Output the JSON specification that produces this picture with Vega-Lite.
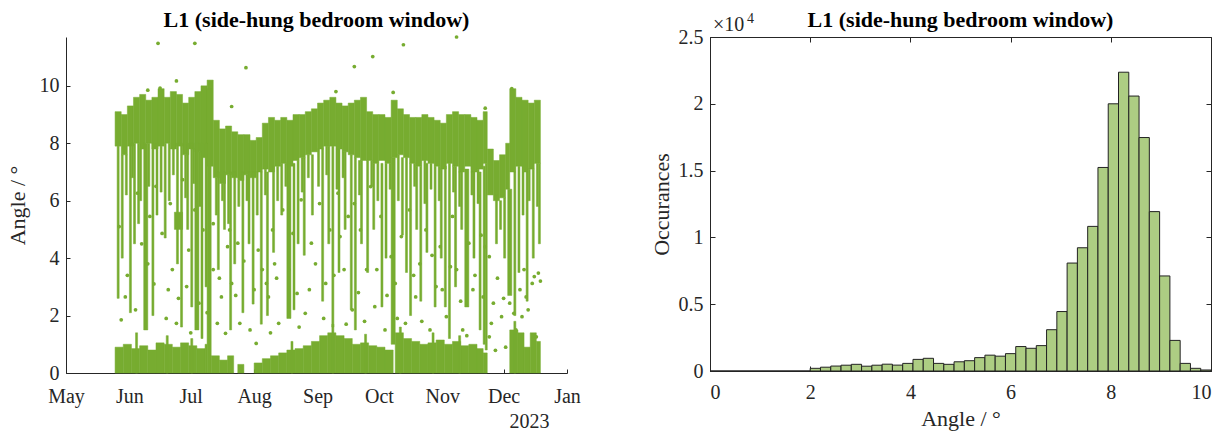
{
"$schema": "https://vega.github.io/schema/vega-lite/v6.json",
"background": "white",
"padding": {"left": 6, "top": 8, "right": 10, "bottom": 0},
"config": {
  "font": "Liberation Serif",
  "view": {"stroke": null},
  "axis": {"grid": false, "domainColor": "#262626", "tickColor": "#262626", "labelColor": "#262626", "titleColor": "#262626", "labelFont": "Liberation Serif", "titleFont": "Liberation Serif", "labelFontSize": 20, "titleFontSize": 22, "titleFontWeight": "normal", "domainWidth": 1, "tickWidth": 1},
  "title": {"font": "Liberation Serif", "fontSize": 22, "fontWeight": "bold", "color": "#000000"},
  "concat": {"spacing": 68}
},
"datasets": {
"seg": [
{"t":"2023-05-25","t2":"2023-05-28","v":7.9,"v2":9.1},
{"t":"2023-05-28","t2":"2023-05-31","v":7.6,"v2":9.0},
{"t":"2023-05-31","t2":"2023-06-03","v":7.9,"v2":9.3},
{"t":"2023-06-03","t2":"2023-06-06","v":8.0,"v2":9.6},
{"t":"2023-06-06","t2":"2023-06-09","v":7.8,"v2":9.7},
{"t":"2023-06-09","t2":"2023-06-12","v":8.0,"v2":9.5},
{"t":"2023-06-12","t2":"2023-06-15","v":7.8,"v2":9.6},
{"t":"2023-06-15","t2":"2023-06-18","v":7.9,"v2":9.9},
{"t":"2023-06-18","t2":"2023-06-21","v":8.0,"v2":9.6},
{"t":"2023-06-21","t2":"2023-06-24","v":7.8,"v2":9.8},
{"t":"2023-06-24","t2":"2023-06-27","v":7.9,"v2":9.7},
{"t":"2023-06-27","t2":"2023-06-30","v":7.6,"v2":9.4},
{"t":"2023-06-30","t2":"2023-07-03","v":7.8,"v2":9.6},
{"t":"2023-07-03","t2":"2023-07-06","v":7.7,"v2":9.8},
{"t":"2023-07-06","t2":"2023-07-09","v":7.5,"v2":10.0},
{"t":"2023-07-09","t2":"2023-07-12","v":7.2,"v2":10.2},
{"t":"2023-07-12","t2":"2023-07-15","v":6.8,"v2":8.8},
{"t":"2023-07-15","t2":"2023-07-18","v":6.6,"v2":8.5},
{"t":"2023-07-18","t2":"2023-07-21","v":6.9,"v2":8.6},
{"t":"2023-07-21","t2":"2023-07-24","v":6.8,"v2":8.4},
{"t":"2023-07-24","t2":"2023-07-27","v":6.7,"v2":8.3},
{"t":"2023-07-27","t2":"2023-07-30","v":6.9,"v2":8.3},
{"t":"2023-07-30","t2":"2023-08-02","v":6.8,"v2":8.1},
{"t":"2023-08-02","t2":"2023-08-05","v":7.0,"v2":8.2},
{"t":"2023-08-05","t2":"2023-08-08","v":7.1,"v2":8.7},
{"t":"2023-08-08","t2":"2023-08-11","v":7.0,"v2":8.9},
{"t":"2023-08-11","t2":"2023-08-14","v":7.2,"v2":8.8},
{"t":"2023-08-14","t2":"2023-08-17","v":7.3,"v2":8.9},
{"t":"2023-08-17","t2":"2023-08-20","v":7.2,"v2":8.8},
{"t":"2023-08-20","t2":"2023-08-23","v":7.4,"v2":9.0},
{"t":"2023-08-23","t2":"2023-08-26","v":7.5,"v2":9.0},
{"t":"2023-08-26","t2":"2023-08-29","v":7.6,"v2":9.1},
{"t":"2023-08-29","t2":"2023-09-01","v":7.7,"v2":9.2},
{"t":"2023-09-01","t2":"2023-09-04","v":7.8,"v2":9.4},
{"t":"2023-09-04","t2":"2023-09-07","v":7.9,"v2":9.5},
{"t":"2023-09-07","t2":"2023-09-10","v":7.9,"v2":9.6},
{"t":"2023-09-10","t2":"2023-09-13","v":7.8,"v2":9.4},
{"t":"2023-09-13","t2":"2023-09-16","v":7.7,"v2":9.3},
{"t":"2023-09-16","t2":"2023-09-19","v":7.6,"v2":9.4},
{"t":"2023-09-19","t2":"2023-09-22","v":7.5,"v2":9.5},
{"t":"2023-09-22","t2":"2023-09-25","v":7.4,"v2":9.6},
{"t":"2023-09-25","t2":"2023-09-28","v":7.4,"v2":9.1},
{"t":"2023-09-28","t2":"2023-10-01","v":7.3,"v2":9.0},
{"t":"2023-10-01","t2":"2023-10-04","v":7.4,"v2":9.0},
{"t":"2023-10-04","t2":"2023-10-07","v":7.3,"v2":8.9},
{"t":"2023-10-07","t2":"2023-10-10","v":7.5,"v2":9.5},
{"t":"2023-10-10","t2":"2023-10-13","v":7.6,"v2":9.2},
{"t":"2023-10-13","t2":"2023-10-16","v":7.5,"v2":9.0},
{"t":"2023-10-16","t2":"2023-10-19","v":7.3,"v2":8.9},
{"t":"2023-10-19","t2":"2023-10-22","v":7.2,"v2":8.9},
{"t":"2023-10-22","t2":"2023-10-25","v":7.4,"v2":9.0},
{"t":"2023-10-25","t2":"2023-10-28","v":7.3,"v2":8.9},
{"t":"2023-10-28","t2":"2023-10-31","v":7.2,"v2":8.8},
{"t":"2023-10-31","t2":"2023-11-03","v":7.1,"v2":8.7},
{"t":"2023-11-03","t2":"2023-11-06","v":7.3,"v2":9.0},
{"t":"2023-11-06","t2":"2023-11-09","v":7.2,"v2":9.1},
{"t":"2023-11-09","t2":"2023-11-12","v":7.0,"v2":9.0},
{"t":"2023-11-12","t2":"2023-11-15","v":7.2,"v2":9.0},
{"t":"2023-11-15","t2":"2023-11-18","v":7.0,"v2":8.9},
{"t":"2023-11-18","t2":"2023-11-21","v":7.1,"v2":8.8},
{"t":"2023-11-21","t2":"2023-11-23","v":7.3,"v2":9.1},
{"t":"2023-11-23","t2":"2023-11-26","v":6.2,"v2":7.8},
{"t":"2023-11-26","t2":"2023-11-29","v":6.0,"v2":7.4},
{"t":"2023-11-29","t2":"2023-12-02","v":6.1,"v2":7.6},
{"t":"2023-12-02","t2":"2023-12-04","v":6.4,"v2":8.0},
{"t":"2023-12-04","t2":"2023-12-07","v":7.0,"v2":9.9},
{"t":"2023-12-07","t2":"2023-12-10","v":7.2,"v2":9.6},
{"t":"2023-12-10","t2":"2023-12-13","v":7.0,"v2":9.5},
{"t":"2023-12-13","t2":"2023-12-16","v":7.1,"v2":9.4},
{"t":"2023-12-16","t2":"2023-12-19","v":7.3,"v2":9.5},
{"t":"2023-05-25","t2":"2023-05-29","v":0,"v2":0.9},
{"t":"2023-05-29","t2":"2023-06-02","v":0,"v2":1.0},
{"t":"2023-06-02","t2":"2023-06-06","v":0,"v2":0.85},
{"t":"2023-06-06","t2":"2023-06-10","v":0,"v2":0.95},
{"t":"2023-06-10","t2":"2023-06-14","v":0,"v2":0.8},
{"t":"2023-06-14","t2":"2023-06-18","v":0,"v2":1.05},
{"t":"2023-06-18","t2":"2023-06-22","v":0,"v2":1.0},
{"t":"2023-06-22","t2":"2023-06-26","v":0,"v2":0.9},
{"t":"2023-06-26","t2":"2023-06-30","v":0,"v2":1.05},
{"t":"2023-06-30","t2":"2023-07-04","v":0,"v2":0.95},
{"t":"2023-07-04","t2":"2023-07-08","v":0,"v2":0.85},
{"t":"2023-07-08","t2":"2023-07-09","v":0,"v2":1.0},
{"t":"2023-07-09","t2":"2023-07-11","v":0,"v2":9.9},
{"t":"2023-07-11","t2":"2023-07-15","v":0,"v2":0.6},
{"t":"2023-07-15","t2":"2023-07-19","v":0,"v2":0.45},
{"t":"2023-07-19","t2":"2023-07-22","v":0,"v2":0.6},
{"t":"2023-07-24","t2":"2023-07-27","v":0,"v2":0.3},
{"t":"2023-08-01","t2":"2023-08-05","v":0,"v2":0.35},
{"t":"2023-08-05","t2":"2023-08-09","v":0,"v2":0.5},
{"t":"2023-08-09","t2":"2023-08-13","v":0,"v2":0.6},
{"t":"2023-08-13","t2":"2023-08-17","v":0,"v2":0.7},
{"t":"2023-08-17","t2":"2023-08-21","v":0,"v2":0.8},
{"t":"2023-08-21","t2":"2023-08-25","v":0,"v2":0.85},
{"t":"2023-08-25","t2":"2023-08-29","v":0,"v2":0.95},
{"t":"2023-08-29","t2":"2023-09-02","v":0,"v2":1.1},
{"t":"2023-09-02","t2":"2023-09-06","v":0,"v2":1.3},
{"t":"2023-09-06","t2":"2023-09-10","v":0,"v2":1.4},
{"t":"2023-09-10","t2":"2023-09-14","v":0,"v2":1.3},
{"t":"2023-09-14","t2":"2023-09-18","v":0,"v2":1.2},
{"t":"2023-09-18","t2":"2023-09-22","v":0,"v2":1.0},
{"t":"2023-09-22","t2":"2023-09-26","v":0,"v2":1.05},
{"t":"2023-09-26","t2":"2023-09-30","v":0,"v2":0.95},
{"t":"2023-09-30","t2":"2023-10-04","v":0,"v2":0.9},
{"t":"2023-10-04","t2":"2023-10-08","v":0,"v2":0.8},
{"t":"2023-10-09","t2":"2023-10-13","v":0,"v2":1.4},
{"t":"2023-10-13","t2":"2023-10-17","v":0,"v2":1.2},
{"t":"2023-10-17","t2":"2023-10-21","v":0,"v2":1.1},
{"t":"2023-10-21","t2":"2023-10-25","v":0,"v2":1.0},
{"t":"2023-10-25","t2":"2023-10-29","v":0,"v2":1.05},
{"t":"2023-10-29","t2":"2023-11-02","v":0,"v2":1.15},
{"t":"2023-11-02","t2":"2023-11-06","v":0,"v2":1.0},
{"t":"2023-11-06","t2":"2023-11-10","v":0,"v2":1.1},
{"t":"2023-11-10","t2":"2023-11-14","v":0,"v2":0.95},
{"t":"2023-11-14","t2":"2023-11-18","v":0,"v2":1.0},
{"t":"2023-11-18","t2":"2023-11-21","v":0,"v2":0.85},
{"t":"2023-11-21","t2":"2023-11-23","v":0,"v2":0.7},
{"t":"2023-12-04","t2":"2023-12-08","v":0,"v2":1.5},
{"t":"2023-12-08","t2":"2023-12-11","v":0,"v2":1.4},
{"t":"2023-12-11","t2":"2023-12-14","v":0,"v2":0.9},
{"t":"2023-12-14","t2":"2023-12-17","v":0,"v2":1.4},
{"t":"2023-12-17","t2":"2023-12-19","v":0,"v2":1.1},
{"t":"2023-06-04","t2":"2023-06-05","v":0,"v2":1.4},
{"t":"2023-06-19","t2":"2023-06-20","v":0,"v2":1.3},
{"t":"2023-07-01","t2":"2023-07-02","v":0,"v2":1.2},
{"t":"2023-08-19","t2":"2023-08-20","v":0,"v2":1.1},
{"t":"2023-09-08","t2":"2023-09-09","v":0,"v2":1.7},
{"t":"2023-09-24","t2":"2023-09-25","v":0,"v2":1.35},
{"t":"2023-10-11","t2":"2023-10-12","v":0,"v2":1.6},
{"t":"2023-10-27","t2":"2023-10-28","v":0,"v2":1.4},
{"t":"2023-11-09","t2":"2023-11-10","v":0,"v2":1.3},
{"t":"2023-12-06","t2":"2023-12-07","v":0,"v2":1.8},
{"t":"2023-05-26","t2":"2023-05-27","v":2.6,"v2":7.9},
{"t":"2023-05-28","t2":"2023-05-29","v":4.0,"v2":7.6},
{"t":"2023-06-01","t2":"2023-06-02","v":2.1,"v2":8.0},
{"t":"2023-06-03","t2":"2023-06-04","v":4.5,"v2":8.0},
{"t":"2023-06-05","t2":"2023-06-06","v":5.2,"v2":8.0},
{"t":"2023-06-08","t2":"2023-06-10","v":1.5,"v2":8.0},
{"t":"2023-06-12","t2":"2023-06-13","v":2.0,"v2":8.0},
{"t":"2023-06-14","t2":"2023-06-15","v":5.5,"v2":8.0},
{"t":"2023-06-18","t2":"2023-06-19","v":4.7,"v2":8.0},
{"t":"2023-06-20","t2":"2023-06-21","v":6.0,"v2":8.0},
{"t":"2023-06-23","t2":"2023-06-27","v":5.0,"v2":5.6},
{"t":"2023-06-24","t2":"2023-06-25","v":3.8,"v2":8.0},
{"t":"2023-06-26","t2":"2023-06-27","v":1.6,"v2":8.0},
{"t":"2023-06-29","t2":"2023-06-30","v":5.0,"v2":8.0},
{"t":"2023-07-01","t2":"2023-07-02","v":2.3,"v2":8.0},
{"t":"2023-07-03","t2":"2023-07-05","v":1.5,"v2":8.0},
{"t":"2023-07-06","t2":"2023-07-07","v":1.2,"v2":8.0},
{"t":"2023-07-08","t2":"2023-07-09","v":3.0,"v2":8.0},
{"t":"2023-07-14","t2":"2023-07-15","v":3.6,"v2":7.0},
{"t":"2023-07-17","t2":"2023-07-18","v":5.0,"v2":7.0},
{"t":"2023-07-20","t2":"2023-07-21","v":1.5,"v2":7.0},
{"t":"2023-07-22","t2":"2023-07-23","v":3.8,"v2":7.0},
{"t":"2023-07-26","t2":"2023-07-27","v":2.1,"v2":7.0},
{"t":"2023-07-29","t2":"2023-07-30","v":4.5,"v2":7.0},
{"t":"2023-07-31","t2":"2023-08-01","v":2.4,"v2":7.0},
{"t":"2023-08-04","t2":"2023-08-05","v":1.7,"v2":7.0},
{"t":"2023-08-07","t2":"2023-08-08","v":2.0,"v2":7.0},
{"t":"2023-08-10","t2":"2023-08-11","v":4.2,"v2":7.2},
{"t":"2023-08-14","t2":"2023-08-15","v":5.5,"v2":7.3},
{"t":"2023-08-17","t2":"2023-08-19","v":1.9,"v2":7.3},
{"t":"2023-08-20","t2":"2023-08-21","v":2.2,"v2":7.3},
{"t":"2023-08-22","t2":"2023-08-23","v":4.5,"v2":7.4},
{"t":"2023-08-25","t2":"2023-08-26","v":4.1,"v2":7.5},
{"t":"2023-08-29","t2":"2023-08-30","v":5.5,"v2":7.6},
{"t":"2023-09-03","t2":"2023-09-04","v":2.5,"v2":7.8},
{"t":"2023-09-06","t2":"2023-09-07","v":4.5,"v2":7.9},
{"t":"2023-09-08","t2":"2023-09-09","v":1.6,"v2":7.9},
{"t":"2023-09-11","t2":"2023-09-12","v":3.5,"v2":7.8},
{"t":"2023-09-14","t2":"2023-09-15","v":5.0,"v2":7.7},
{"t":"2023-09-17","t2":"2023-09-18","v":2.2,"v2":7.6},
{"t":"2023-09-19","t2":"2023-09-20","v":1.5,"v2":7.5},
{"t":"2023-09-22","t2":"2023-09-23","v":4.5,"v2":7.4},
{"t":"2023-09-25","t2":"2023-09-26","v":3.5,"v2":7.4},
{"t":"2023-09-28","t2":"2023-09-29","v":5.0,"v2":7.3},
{"t":"2023-10-02","t2":"2023-10-03","v":2.3,"v2":7.3},
{"t":"2023-10-04","t2":"2023-10-05","v":4.0,"v2":7.3},
{"t":"2023-10-07","t2":"2023-10-09","v":1.0,"v2":7.5},
{"t":"2023-10-12","t2":"2023-10-13","v":4.8,"v2":7.5},
{"t":"2023-10-14","t2":"2023-10-15","v":3.5,"v2":7.5},
{"t":"2023-10-16","t2":"2023-10-17","v":2.0,"v2":7.3},
{"t":"2023-10-19","t2":"2023-10-20","v":5.0,"v2":7.2},
{"t":"2023-10-21","t2":"2023-10-22","v":2.5,"v2":7.2},
{"t":"2023-10-24","t2":"2023-10-25","v":4.2,"v2":7.3},
{"t":"2023-10-28","t2":"2023-10-29","v":2.3,"v2":7.2},
{"t":"2023-10-31","t2":"2023-11-01","v":4.0,"v2":7.1},
{"t":"2023-11-02","t2":"2023-11-03","v":2.3,"v2":7.2},
{"t":"2023-11-04","t2":"2023-11-05","v":1.2,"v2":7.3},
{"t":"2023-11-07","t2":"2023-11-08","v":3.0,"v2":7.2},
{"t":"2023-11-10","t2":"2023-11-11","v":5.0,"v2":7.1},
{"t":"2023-11-12","t2":"2023-11-14","v":2.3,"v2":7.1},
{"t":"2023-11-16","t2":"2023-11-17","v":4.0,"v2":7.0},
{"t":"2023-11-19","t2":"2023-11-20","v":1.5,"v2":7.0},
{"t":"2023-11-21","t2":"2023-11-22","v":1.0,"v2":7.2},
{"t":"2023-11-22","t2":"2023-11-23","v":0.8,"v2":7.3},
{"t":"2023-11-27","t2":"2023-11-28","v":4.5,"v2":6.2},
{"t":"2023-11-29","t2":"2023-11-30","v":5.0,"v2":6.0},
{"t":"2023-12-01","t2":"2023-12-02","v":4.0,"v2":6.1},
{"t":"2023-12-03","t2":"2023-12-05","v":2.7,"v2":6.4},
{"t":"2023-12-06","t2":"2023-12-07","v":2.0,"v2":7.0},
{"t":"2023-12-08","t2":"2023-12-09","v":3.5,"v2":7.2},
{"t":"2023-12-12","t2":"2023-12-13","v":2.5,"v2":7.0},
{"t":"2023-12-15","t2":"2023-12-16","v":4.0,"v2":7.1},
{"t":"2023-12-18","t2":"2023-12-19","v":4.5,"v2":7.3},
{"t":"2023-05-30","t2":"2023-05-31","v":6.2,"v2":7.6},
{"t":"2023-06-02","t2":"2023-06-03","v":6.8,"v2":8.0},
{"t":"2023-06-06","t2":"2023-06-07","v":6.0,"v2":7.8},
{"t":"2023-06-10","t2":"2023-06-11","v":6.5,"v2":8.0},
{"t":"2023-06-16","t2":"2023-06-17","v":6.3,"v2":7.9},
{"t":"2023-06-22","t2":"2023-06-23","v":6.9,"v2":7.8},
{"t":"2023-06-28","t2":"2023-06-29","v":6.1,"v2":7.6},
{"t":"2023-07-02","t2":"2023-07-03","v":6.6,"v2":7.8},
{"t":"2023-07-05","t2":"2023-07-06","v":5.8,"v2":7.7},
{"t":"2023-07-13","t2":"2023-07-14","v":5.5,"v2":6.8},
{"t":"2023-07-16","t2":"2023-07-17","v":6.0,"v2":6.6},
{"t":"2023-07-19","t2":"2023-07-20","v":5.2,"v2":6.9},
{"t":"2023-07-24","t2":"2023-07-25","v":5.8,"v2":6.7},
{"t":"2023-07-28","t2":"2023-07-29","v":6.0,"v2":6.9},
{"t":"2023-08-02","t2":"2023-08-03","v":5.5,"v2":7.0},
{"t":"2023-08-06","t2":"2023-08-07","v":6.2,"v2":7.1},
{"t":"2023-08-12","t2":"2023-08-13","v":6.0,"v2":7.2},
{"t":"2023-08-16","t2":"2023-08-17","v":6.5,"v2":7.3},
{"t":"2023-08-24","t2":"2023-08-25","v":6.3,"v2":7.5},
{"t":"2023-08-27","t2":"2023-08-28","v":6.8,"v2":7.6},
{"t":"2023-09-01","t2":"2023-09-02","v":6.5,"v2":7.8},
{"t":"2023-09-05","t2":"2023-09-06","v":6.9,"v2":7.9},
{"t":"2023-09-10","t2":"2023-09-11","v":6.4,"v2":7.8},
{"t":"2023-09-13","t2":"2023-09-14","v":6.8,"v2":7.7},
{"t":"2023-09-21","t2":"2023-09-22","v":6.2,"v2":7.4},
{"t":"2023-09-27","t2":"2023-09-28","v":6.5,"v2":7.4},
{"t":"2023-09-30","t2":"2023-10-01","v":6.0,"v2":7.3},
{"t":"2023-10-06","t2":"2023-10-07","v":6.4,"v2":7.3},
{"t":"2023-10-10","t2":"2023-10-11","v":6.0,"v2":7.6},
{"t":"2023-10-18","t2":"2023-10-19","v":6.5,"v2":7.3},
{"t":"2023-10-23","t2":"2023-10-24","v":5.9,"v2":7.4},
{"t":"2023-10-26","t2":"2023-10-27","v":6.4,"v2":7.3},
{"t":"2023-10-30","t2":"2023-10-31","v":6.0,"v2":7.2},
{"t":"2023-11-06","t2":"2023-11-07","v":6.3,"v2":7.2},
{"t":"2023-11-09","t2":"2023-11-10","v":5.8,"v2":7.0},
{"t":"2023-11-15","t2":"2023-11-16","v":6.2,"v2":7.0},
{"t":"2023-11-18","t2":"2023-11-19","v":5.9,"v2":7.1},
{"t":"2023-12-10","t2":"2023-12-11","v":5.5,"v2":7.0},
{"t":"2023-12-13","t2":"2023-12-14","v":6.0,"v2":7.1},
{"t":"2023-12-17","t2":"2023-12-18","v":5.8,"v2":7.3}
],
"dots": [
{"t":"2023-05-27","v":5.1},{"t":"2023-05-28","v":1.85},{"t":"2023-05-30","v":2.65},{"t":"2023-06-05","v":6.26},
{"t":"2023-06-07","v":4.5},{"t":"2023-06-10","v":3.8},{"t":"2023-06-11","v":5.45},{"t":"2023-06-14","v":6.5},
{"t":"2023-06-17","v":4.86},{"t":"2023-06-20","v":2.9},{"t":"2023-06-21","v":5.9},{"t":"2023-06-22","v":3.6},
{"t":"2023-06-24","v":1.73},{"t":"2023-06-27","v":6.73},{"t":"2023-06-29","v":3.01},{"t":"2023-06-30","v":4.28},
{"t":"2023-07-03","v":5.68},{"t":"2023-07-05","v":2.43},{"t":"2023-07-07","v":4.98},{"t":"2023-07-12","v":5.2},
{"t":"2023-07-12","v":3.6},{"t":"2023-07-14","v":1.73},{"t":"2023-07-16","v":2.65},{"t":"2023-07-19","v":4.4},
{"t":"2023-07-18","v":1.38},{"t":"2023-07-21","v":9.28},{"t":"2023-07-28","v":10.63},{"t":"2023-07-20","v":4.98},
{"t":"2023-07-21","v":3.12},{"t":"2023-07-24","v":4.52},{"t":"2023-07-25","v":1.73},{"t":"2023-07-30","v":1.5},
{"t":"2023-08-02","v":1.03},{"t":"2023-08-03","v":4.28},{"t":"2023-08-05","v":3.6},{"t":"2023-08-07","v":3.12},
{"t":"2023-08-08","v":2.65},{"t":"2023-08-10","v":4.98},{"t":"2023-08-11","v":3.8},{"t":"2023-08-13","v":1.73},
{"t":"2023-08-15","v":5.68},{"t":"2023-08-20","v":4.86},{"t":"2023-08-22","v":2.77},{"t":"2023-08-24","v":6.03},
{"t":"2023-08-26","v":2.08},{"t":"2023-08-29","v":4.52},{"t":"2023-08-31","v":3.8},{"t":"2023-09-02","v":5.9},
{"t":"2023-09-05","v":3.12},{"t":"2023-09-07","v":4.98},{"t":"2023-09-11","v":6.26},{"t":"2023-09-12","v":4.75},
{"t":"2023-09-14","v":3.6},{"t":"2023-09-16","v":5.45},{"t":"2023-09-18","v":2.2},{"t":"2023-09-19","v":10.67},
{"t":"2023-09-28","v":11.02},{"t":"2023-10-13","v":11.43},{"t":"2023-11-08","v":11.7},{"t":"2023-06-15","v":11.48},
{"t":"2023-07-03","v":11.48},{"t":"2023-09-19","v":5.9},{"t":"2023-09-22","v":4.98},{"t":"2023-09-25","v":3.6},
{"t":"2023-09-27","v":6.49},{"t":"2023-09-29","v":2.31},{"t":"2023-10-02","v":5.45},{"t":"2023-10-04","v":1.5},
{"t":"2023-10-07","v":4.05},{"t":"2023-10-09","v":3.12},{"t":"2023-10-12","v":4.75},{"t":"2023-10-14","v":1.73},
{"t":"2023-10-16","v":5.68},{"t":"2023-10-19","v":2.65},{"t":"2023-10-21","v":3.8},{"t":"2023-10-24","v":4.98},
{"t":"2023-10-26","v":1.5},{"t":"2023-10-29","v":3.01},{"t":"2023-10-31","v":4.4},{"t":"2023-11-03","v":1.96},
{"t":"2023-11-06","v":5.45},{"t":"2023-11-08","v":3.6},{"t":"2023-11-11","v":1.5},{"t":"2023-11-14","v":4.52},
{"t":"2023-11-16","v":2.9},{"t":"2023-11-19","v":6.14},{"t":"2023-11-21","v":2.65},{"t":"2023-11-22","v":4.4},
{"t":"2023-11-24","v":1.26},{"t":"2023-11-25","v":1.73},{"t":"2023-11-26","v":2.43},{"t":"2023-11-27","v":0.79},
{"t":"2023-11-24","v":4.05},{"t":"2023-11-30","v":1.96},{"t":"2023-12-02","v":0.9},{"t":"2023-12-04","v":2.43},
{"t":"2023-12-06","v":2.08},{"t":"2023-12-09","v":2.9},{"t":"2023-12-11","v":3.6},{"t":"2023-12-12","v":2.65},
{"t":"2023-12-15","v":3.12},{"t":"2023-12-16","v":3.36},{"t":"2023-12-18","v":3.48},{"t":"2023-12-17","v":1.26},
{"t":"2023-12-10","v":1.96},{"t":"2023-06-24","v":10.17},{"t":"2023-06-10","v":9.85},{"t":"2023-06-16","v":9.92},
{"t":"2023-09-10","v":9.8},{"t":"2023-10-08","v":9.77},{"t":"2023-11-22","v":9.22},{"t":"2023-12-05","v":9.9},
{"t":"2023-05-31","v":3.4},{"t":"2023-06-04","v":2.2},{"t":"2023-06-13","v":3.1},{"t":"2023-06-19","v":1.9},
{"t":"2023-06-25","v":2.6},{"t":"2023-07-01","v":1.4},{"t":"2023-07-09","v":2.1},{"t":"2023-07-15","v":3.3},
{"t":"2023-07-23","v":2.7},{"t":"2023-07-27","v":3.9},{"t":"2023-08-01","v":2.9},{"t":"2023-08-09","v":1.4},
{"t":"2023-08-12","v":3.3},{"t":"2023-08-18","v":3.6},{"t":"2023-08-23","v":1.6},{"t":"2023-08-28","v":2.9},
{"t":"2023-09-04","v":1.9},{"t":"2023-09-09","v":3.4},{"t":"2023-09-15","v":1.7},{"t":"2023-09-21","v":2.8},
{"t":"2023-09-24","v":1.8},{"t":"2023-09-30","v":3.6},{"t":"2023-10-05","v":2.7},{"t":"2023-10-10","v":1.9},
{"t":"2023-10-18","v":3.4},{"t":"2023-10-22","v":1.8},{"t":"2023-10-27","v":4.1},{"t":"2023-11-01","v":2.9},
{"t":"2023-11-05","v":3.7},{"t":"2023-11-10","v":2.5},{"t":"2023-11-13","v":1.3},{"t":"2023-11-17","v":3.4},
{"t":"2023-11-20","v":4.8},{"t":"2023-11-28","v":3.3},{"t":"2023-12-01","v":2.6},{"t":"2023-12-07","v":1.5},
{"t":"2023-12-13","v":2.2},{"t":"2023-12-19","v":3.2}
],
"hist": [
{"a":0,"b":2,"n":0},
{"a":2.0,"b":2.2051,"n":200},{"a":2.2051,"b":2.4103,"n":285},{"a":2.4103,"b":2.6154,"n":370},{"a":2.6154,"b":2.8205,"n":435},
{"a":2.8205,"b":3.0256,"n":500},{"a":3.0256,"b":3.2308,"n":360},{"a":3.2308,"b":3.4359,"n":435},{"a":3.4359,"b":3.641,"n":510},
{"a":3.641,"b":3.8462,"n":440},{"a":3.8462,"b":4.0513,"n":570},{"a":4.0513,"b":4.2564,"n":870},{"a":4.2564,"b":4.4615,"n":950},
{"a":4.4615,"b":4.6667,"n":570},{"a":4.6667,"b":4.8718,"n":500},{"a":4.8718,"b":5.0769,"n":690},{"a":5.0769,"b":5.2821,"n":770},
{"a":5.2821,"b":5.4872,"n":1000},{"a":5.4872,"b":5.6923,"n":1185},{"a":5.6923,"b":5.8974,"n":1110},{"a":5.8974,"b":6.1026,"n":1300},
{"a":6.1026,"b":6.3077,"n":1830},{"a":6.3077,"b":6.5128,"n":1700},{"a":6.5128,"b":6.7179,"n":1900},{"a":6.7179,"b":6.9231,"n":3090},
{"a":6.9231,"b":7.1282,"n":4450},{"a":7.1282,"b":7.3333,"n":8080},{"a":7.3333,"b":7.5385,"n":9225},{"a":7.5385,"b":7.7436,"n":10825},
{"a":7.7436,"b":7.9487,"n":15235},{"a":7.9487,"b":8.1538,"n":20000},{"a":8.1538,"b":8.359,"n":22365},{"a":8.359,"b":8.5641,"n":20580},
{"a":8.5641,"b":8.7692,"n":17475},{"a":8.7692,"b":8.9744,"n":11930},{"a":8.9744,"b":9.1795,"n":7115},{"a":9.1795,"b":9.3846,"n":2290},
{"a":9.3846,"b":9.5897,"n":570},{"a":9.5897,"b":9.7949,"n":200},{"a":9.7949,"b":10.0,"n":75}
]
},
"hconcat": [
{
  "width": 501, "height": 336,
  "title": {"text": "L1 (side-hung bedroom window)", "offset": 3},
  "encoding": {
    "x": {"field": "t", "type": "temporal", "title": "2023",
      "scale": {"type": "utc", "domain": [1682899200000, 1704067200000]},
      "axis": {"labelExpr": "utcFormat(datum.value, '%b')", "tickSize": -4, "labelPadding": 17, "titleX": 463, "titleAlign": "center", "titlePadding": 5, "titleFontSize": 20, "labelFlush": false,
        "values": [1682899200000, 1685577600000, 1688169600000, 1690848000000, 1693526400000, 1696118400000, 1698796800000, 1701388800000, 1704067200000]}},
    "y": {"field": "v", "type": "quantitative", "title": "Angle / °",
      "scale": {"domain": [0, 11.7], "nice": false},
      "axis": {"values": [0, 2, 4, 6, 8, 10], "tickSize": -4, "labelPadding": 11, "titlePadding": 10}}
  },
  "layer": [
    {
      "data": {"name": "seg"},
      "mark": {"type": "rect", "color": "#77AC30", "stroke": "#77AC30", "strokeWidth": 0.5},
      "encoding": {"x2": {"field": "t2"}, "y2": {"field": "v2"}}
    },
    {
      "data": {"name": "dots"},
      "mark": {"type": "point", "filled": true, "size": 14, "color": "#77AC30", "opacity": 1}
    }
  ]
},
{
  "width": 501, "height": 334,
  "title": {"text": "L1 (side-hung bedroom window)", "offset": -20},
  "view": {"stroke": "#262626", "strokeWidth": 1},
  "layer": [
    {
      "data": {"name": "hist"},
      "mark": {"type": "rect", "fill": "#ADCD83", "stroke": "#222222", "strokeWidth": 1},
      "encoding": {
        "x": {"field": "a", "type": "quantitative", "title": "Angle / °", "scale": {"domain": [0, 10], "nice": false},
          "axis": {"values": [0, 2, 4, 6, 8, 10], "tickSize": -5, "labelPadding": 16, "titlePadding": 6}},
        "x2": {"field": "b"},
        "y": {"field": "n", "type": "quantitative", "title": "Occurances", "scale": {"domain": [0, 25000], "nice": false},
          "axis": {"values": [0, 5000, 10000, 15000, 20000, 25000], "labelExpr": "datum.value / 10000", "tickSize": -5, "labelPadding": 12, "titlePadding": 5}},
        "y2": {"datum": 0}
      }
    },
    {
      "data": {"values": [{}]},
      "mark": {"type": "text", "text": "×10", "align": "left", "baseline": "bottom", "dx": 3, "dy": -2, "fontSize": 20, "font": "Liberation Serif", "color": "#262626"},
      "encoding": {
        "x": {"datum": 0, "type": "quantitative", "axis": {"orient": "top", "title": null, "labels": false, "domain": false, "values": [0, 2, 4, 6, 8, 10], "tickSize": -5}},
        "y": {"datum": 25000, "type": "quantitative", "axis": {"orient": "right", "title": null, "labels": false, "domain": false, "values": [0, 5000, 10000, 15000, 20000, 25000], "tickSize": -5}}
      }
    },
    {
      "data": {"values": [{}]},
      "mark": {"type": "text", "text": "4", "align": "left", "baseline": "bottom", "dx": 37, "dy": -11, "fontSize": 14, "font": "Liberation Serif", "color": "#262626"},
      "encoding": {
        "x": {"datum": 0, "type": "quantitative", "axis": null},
        "y": {"datum": 25000, "type": "quantitative", "axis": null}
      }
    }
  ],
  "resolve": {"axis": {"x": "independent", "y": "independent"}}
}
]
}
